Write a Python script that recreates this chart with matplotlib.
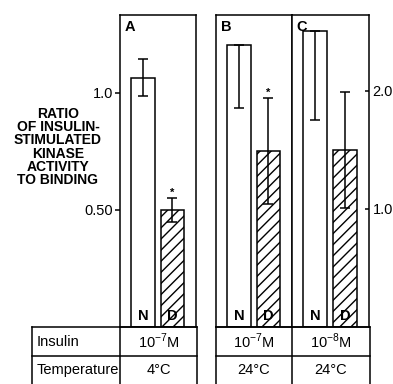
import matplotlib
matplotlib.use("Agg")
import matplotlib.pyplot as plt

plt.rcParams["font.family"] = ["Liberation Sans", "DejaVu Sans"]
plt.rcParams["mathtext.fontset"] = "custom"
plt.rcParams["mathtext.rm"] = "Liberation Sans"
plt.rcParams["hatch.linewidth"] = 1.0

W, H = 393, 384

# data
panels = ["A", "B", "C"]
conditions = ["N", "D"]
ratio_N = [1.064, 2.39, 2.51]
ratio_D = [0.50, 1.49, 1.50]
err_N_low = [0.075, 0.53, 0.76]
err_N_high = [0.08, 0.0, 0.0]
err_D = [0.05, 0.45, 0.49]
starred_D = [True, True, False]
insulin = [r"10$^{\mathregular{-7}}$M", r"10$^{\mathregular{-7}}$M", r"10$^{\mathregular{-8}}$M"]
temperature = ["4\u00b0C", "24\u00b0C", "24\u00b0C"]
left_ticks = [0.5, 1.0]
left_ticklabels = ["0.50", "1.0"]
right_ticks = [1.0, 2.0]
right_ticklabels = ["1.0", "2.0"]

FS = 10.5


def px(x0, y0, x1, y1):
    return [x0 / W, 1 - y1 / H, (x1 - x0) / W, (y1 - y0) / H]


fig = plt.figure(figsize=(W / 100, H / 100), dpi=100)

boxes = [(120, 15, 196, 327), (216, 15, 292, 327), (292, 15, 369, 327)]
ylims = [1.333, 2.644]
lw = 1.1

axes = []
for i, name in enumerate(panels):
    ax = fig.add_axes(px(*boxes[i]))
    ax.set_xlim(-0.78, 1.8)
    ax.set_ylim(0, ylims[0] if i == 0 else ylims[1])
    for s in ax.spines.values():
        s.set_linewidth(lw)
    ax.set_xticks([])
    bw = 0.8
    ax.bar(0, ratio_N[i], width=bw, color="white", edgecolor="black", linewidth=lw)
    ax.bar(1, ratio_D[i], width=bw, color="white", edgecolor="black",
           linewidth=lw, hatch="///")
    ax.errorbar(0, ratio_N[i], yerr=[[err_N_low[i]], [err_N_high[i]]], fmt="none",
                ecolor="black", elinewidth=lw, capsize=3.6, capthick=lw)
    ax.errorbar(1, ratio_D[i], yerr=err_D[i], fmt="none",
                ecolor="black", elinewidth=lw, capsize=3.6, capthick=lw)
    if starred_D[i]:
        ax.annotate("*", (1, ratio_D[i] + err_D[i]), xytext=(0, 0.5),
                    textcoords="offset points", ha="center", va="bottom",
                    fontsize=8, fontweight="bold")
    ax.text(0.06, 0.985, name, transform=ax.transAxes, ha="left", va="top",
            fontsize=FS, fontweight="bold")
    for xi, c in enumerate(conditions):
        ax.text(xi, 0.012 * ax.get_ylim()[1], c, ha="center", va="bottom",
                fontsize=FS, fontweight="bold")
    axes.append(ax)

axA, axB, axC = axes
axA.set_yticks(left_ticks)
axA.set_yticklabels(left_ticklabels)
axA.tick_params(axis="y", direction="out", length=3.5, width=lw, labelsize=FS, pad=1.5)

axB.set_yticks([])

axC.yaxis.tick_right()
axC.set_yticks(right_ticks)
axC.set_yticklabels(right_ticklabels)
axC.tick_params(axis="y", direction="in", length=3, width=lw, labelsize=FS, pad=2.5)

fig.text(58 / W, 1 - 147 / H,
         "RATIO\nOF INSULIN-\nSTIMULATED\nKINASE\nACTIVITY\nTO BINDING",
         ha="center", va="center", fontsize=10, fontweight="bold", linespacing=0.93)

# table underneath
tab = fig.add_axes([0, 0, 1, 1])
tab.set_xlim(0, W)
tab.set_ylim(H, 0)
tab.axis("off")
rows = [327, 356, 384]
col_x = [(120, 197), (216, 292), (292, 370)]
kw = dict(color="black", linewidth=lw)
for y in rows[:2]:
    tab.plot([32, 197], [y, y], **kw)
    tab.plot([216, 370], [y, y], **kw)
for x in [32, 120, 197, 216, 292, 370]:
    tab.plot([x, x], [rows[0], rows[2]], **kw)
tab.text(37, (rows[0] + rows[1]) / 2, "Insulin", ha="left", va="center", fontsize=FS)
tab.text(37, (rows[1] + rows[2]) / 2, "Temperature", ha="left", va="center", fontsize=FS)
for (x0, x1), ins, temp in zip(col_x, insulin, temperature):
    tab.text((x0 + x1) / 2, (rows[0] + rows[1]) / 2, ins, ha="center", va="center", fontsize=FS)
    tab.text((x0 + x1) / 2, (rows[1] + rows[2]) / 2, temp, ha="center", va="center", fontsize=FS)

fig.savefig("out.png", dpi=100)
